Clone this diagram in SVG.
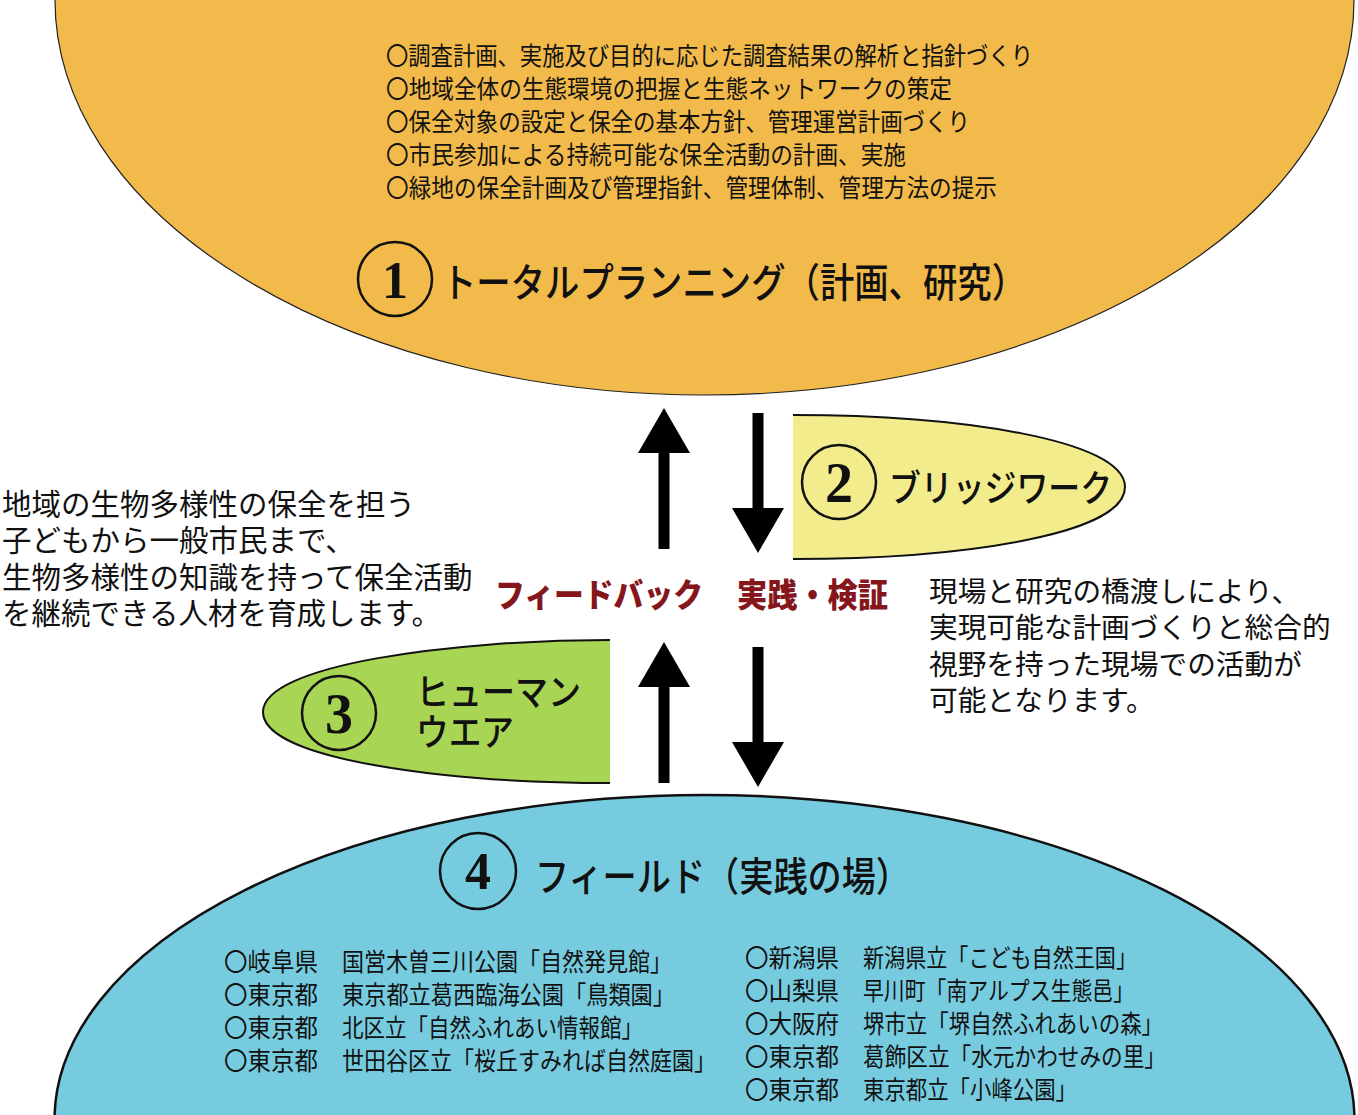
<svg xmlns="http://www.w3.org/2000/svg" width="1358" height="1115" viewBox="0 0 1358 1115">
<defs>
<style>
.jp{font-family:"Noto Sans CJK JP","Noto Sans CJK SC",sans-serif;fill:#111}
.lst{font-size:25px}
.side{font-size:29.5px}
.sider{font-size:28.7px}
.ttl{font-size:40px;font-weight:500}
.sub{font-size:37px;font-weight:500}
.num{font-family:"Liberation Serif",serif;font-weight:bold;fill:#111;text-anchor:middle}
.ring{fill:none;stroke:#111;stroke-width:2.5}
.red{font-family:"Noto Sans CJK JP",sans-serif;font-weight:900;font-size:33px;fill:#85161B}
.arr{stroke:#000;stroke-width:11;fill:none}
</style>
<marker id="head" markerUnits="userSpaceOnUse" viewBox="0 0 45 52" markerWidth="45" markerHeight="52" refX="0" refY="26" orient="auto">
<path d="M0,0 L45,26 L0,52 Z" fill="#000"/>
</marker>
</defs>
<rect width="1358" height="1115" fill="#fff"/>

<g id="node1">
<ellipse cx="704.5" cy="0" rx="649.5" ry="395" fill="#F2BA4A" stroke="#222" stroke-width="1.2"/>
<text class="jp lst" x="386" y="65" textLength="647" lengthAdjust="spacingAndGlyphs">〇調査計画、実施及び目的に応じた調査結果の解析と指針づくり</text>
<text class="jp lst" x="386" y="98" textLength="566" lengthAdjust="spacingAndGlyphs">〇地域全体の生態環境の把握と生態ネットワークの策定</text>
<text class="jp lst" x="386" y="131" textLength="584" lengthAdjust="spacingAndGlyphs">〇保全対象の設定と保全の基本方針、管理運営計画づくり</text>
<text class="jp lst" x="386" y="164" textLength="520" lengthAdjust="spacingAndGlyphs">〇市民参加による持続可能な保全活動の計画、実施</text>
<text class="jp lst" x="386" y="197" textLength="611" lengthAdjust="spacingAndGlyphs">〇緑地の保全計画及び管理指針、管理体制、管理方法の提示</text>
<circle class="ring" cx="395" cy="279" r="37"/>
<text class="num" x="395" y="298" font-size="52">1</text>
<text class="jp ttl" x="442" y="297" textLength="584" lengthAdjust="spacingAndGlyphs">トータルプランニング（計画、研究）</text>
</g>

<g id="node2">
<path d="M793,415 C960,415 1125,440 1125,487 C1125,535 960,559 793,559 Z" fill="#F2EC8C"/>
<path d="M793,415 C960,415 1125,440 1125,487 C1125,535 960,559 793,559" fill="none" stroke="#111" stroke-width="2"/>
<circle class="ring" cx="839" cy="482" r="37"/>
<text class="num" x="839" y="502" font-size="56">2</text>
<text class="jp sub" x="889" y="502" textLength="223" lengthAdjust="spacingAndGlyphs">ブリッジワーク</text>
</g>

<g id="node3">
<path d="M610,640 C450,640 263,665 263,712 C263,760 450,783 610,783 Z" fill="#A8D554"/>
<path d="M610,640 C450,640 263,665 263,712 C263,760 450,783 610,783" fill="none" stroke="#111" stroke-width="2"/>
<circle class="ring" cx="339" cy="713" r="37"/>
<text class="num" x="339" y="733" font-size="56">3</text>
<text class="jp sub" x="416" y="706" textLength="165" lengthAdjust="spacingAndGlyphs">ヒューマン</text>
<text class="jp sub" x="416" y="746" textLength="98" lengthAdjust="spacingAndGlyphs">ウエア</text>
</g>

<g id="node4">
<ellipse cx="704.5" cy="1120" rx="650" ry="325" fill="#77CBDF" stroke="#111" stroke-width="2.5"/>
<circle class="ring" cx="478" cy="871" r="38"/>
<text class="num" x="478" y="889" font-size="52">4</text>
<text class="jp ttl" x="535" y="891" textLength="375" lengthAdjust="spacingAndGlyphs">フィールド（実践の場）</text>
<text class="jp lst" x="224" y="971" textLength="94" lengthAdjust="spacingAndGlyphs">〇岐阜県</text>
<text class="jp lst" x="342" y="971" textLength="330" lengthAdjust="spacingAndGlyphs">国営木曽三川公園「自然発見館」</text>
<text class="jp lst" x="224" y="1004" textLength="94" lengthAdjust="spacingAndGlyphs">〇東京都</text>
<text class="jp lst" x="342" y="1004" textLength="333" lengthAdjust="spacingAndGlyphs">東京都立葛西臨海公園「鳥類園」</text>
<text class="jp lst" x="224" y="1037" textLength="94" lengthAdjust="spacingAndGlyphs">〇東京都</text>
<text class="jp lst" x="342" y="1037" textLength="301" lengthAdjust="spacingAndGlyphs">北区立「自然ふれあい情報館」</text>
<text class="jp lst" x="224" y="1070" textLength="94" lengthAdjust="spacingAndGlyphs">〇東京都</text>
<text class="jp lst" x="342" y="1070" textLength="374" lengthAdjust="spacingAndGlyphs">世田谷区立「桜丘すみれば自然庭園」</text>
<text class="jp lst" x="745" y="967" textLength="94" lengthAdjust="spacingAndGlyphs">〇新潟県</text>
<text class="jp lst" x="863" y="967" textLength="274" lengthAdjust="spacingAndGlyphs">新潟県立「こども自然王国」</text>
<text class="jp lst" x="745" y="1000" textLength="94" lengthAdjust="spacingAndGlyphs">〇山梨県</text>
<text class="jp lst" x="863" y="1000" textLength="271" lengthAdjust="spacingAndGlyphs">早川町「南アルプス生態邑」</text>
<text class="jp lst" x="745" y="1033" textLength="94" lengthAdjust="spacingAndGlyphs">〇大阪府</text>
<text class="jp lst" x="863" y="1033" textLength="300" lengthAdjust="spacingAndGlyphs">堺市立「堺自然ふれあいの森」</text>
<text class="jp lst" x="745" y="1066" textLength="94" lengthAdjust="spacingAndGlyphs">〇東京都</text>
<text class="jp lst" x="863" y="1066" textLength="303" lengthAdjust="spacingAndGlyphs">葛飾区立「水元かわせみの里」</text>
<text class="jp lst" x="745" y="1099" textLength="94" lengthAdjust="spacingAndGlyphs">〇東京都</text>
<text class="jp lst" x="863" y="1099" textLength="214" lengthAdjust="spacingAndGlyphs">東京都立「小峰公園」</text>
</g>

<g id="connectors">
<line class="arr" x1="664" y1="549" x2="664" y2="453" marker-end="url(#head)"/>
<line class="arr" x1="758" y1="413" x2="758" y2="508" marker-end="url(#head)"/>
<line class="arr" x1="664" y1="783" x2="664" y2="687" marker-end="url(#head)"/>
<line class="arr" x1="758" y1="647" x2="758" y2="742" marker-end="url(#head)"/>
<text class="red" x="495" y="607" textLength="208" lengthAdjust="spacingAndGlyphs">フィードバック</text>
<text class="red" x="737" y="607" textLength="151" lengthAdjust="spacingAndGlyphs">実践・検証</text>
</g>

<g id="note-left">
<text class="jp side" x="2" y="515">地域の生物多様性の保全を担う</text>
<text class="jp side" x="2" y="551">子どもから一般市民まで、</text>
<text class="jp side" x="2" y="588">生物多様性の知識を持って保全活動</text>
<text class="jp side" x="2" y="624">を継続できる人材を育成します。</text>
</g>

<g id="note-right">
<text class="jp sider" x="929" y="602">現場と研究の橋渡しにより、</text>
<text class="jp sider" x="929" y="638">実現可能な計画づくりと総合的</text>
<text class="jp sider" x="929" y="675">視野を持った現場での活動が</text>
<text class="jp sider" x="929" y="711">可能となります。</text>
</g>
</svg>
